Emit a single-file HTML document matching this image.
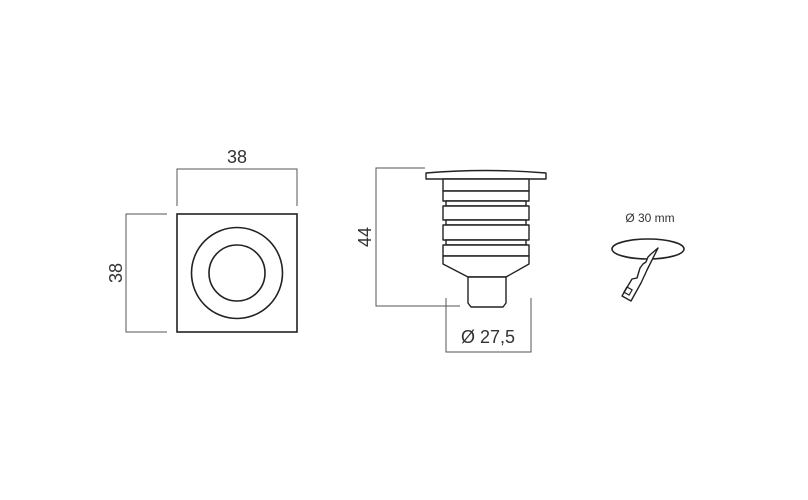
<!DOCTYPE html>
<html><head><meta charset="utf-8"><style>
body{margin:0;background:#fff}
svg{display:block}
text{font-family:"Liberation Sans",sans-serif;fill:#333}
</style></head><body>
<svg width="808" height="500" viewBox="0 0 808 500" xmlns="http://www.w3.org/2000/svg">
<g fill="none" stroke="#555" stroke-width="1">
<polyline points="177,206 177,169 297,169 297,206"/>
<polyline points="167,214 126,214 126,332 167,332"/>
<polyline points="425,168 376,168 376,306 460,306"/>
<polyline points="446,298 446,352 531,352 531,298"/>
</g>
<text x="237" y="163" font-size="18" text-anchor="middle">38</text>
<text transform="translate(122,273) rotate(-90)" font-size="18" text-anchor="middle">38</text>
<text transform="translate(371,237) rotate(-90)" font-size="18" text-anchor="middle">44</text>
<text x="488" y="343" font-size="18" text-anchor="middle">Ø 27,5</text>
<text x="650" y="222" font-size="12" text-anchor="middle">Ø 30 mm</text>
<g fill="none" stroke="#222" stroke-width="1.6">
<rect x="177" y="214" width="120" height="118"/>
<circle cx="237" cy="273" r="45.5"/>
<circle cx="237" cy="273" r="28"/>
</g>
<g fill="#fff" stroke="#222" stroke-width="1.4" stroke-linejoin="round">
<path d="M426,179 L426,173 Q486,168 546,173 L546,179 Z"/>
<rect x="443" y="179" width="86" height="12"/>
<rect x="443" y="191" width="86" height="10"/>
<rect x="446" y="201" width="80" height="5"/>
<rect x="443" y="206" width="86" height="14"/>
<rect x="446" y="220" width="80" height="5"/>
<rect x="443" y="225" width="86" height="15"/>
<rect x="446" y="240" width="80" height="5"/>
<rect x="443" y="245" width="86" height="11"/>
<path d="M443,256 L529,256 L529,264 L506,277 L468,277 L443,264 Z"/>
<path d="M468,277 L506,277 L506,303 L503,307 L471,307 L468,303 Z"/>
</g>
<ellipse cx="648" cy="249" rx="36" ry="10" fill="#fff" stroke="#222" stroke-width="1.6"/>
<path d="M658,248 L647,270 L641,283 L631,301 L622,296 L632,279 L637,278 L640,268 L643,264 L646,262 L648,257 L651,254 Z" fill="#fff" stroke="#222" stroke-width="1.4" stroke-linejoin="round"/>
<rect x="625" y="288" width="6" height="6" transform="rotate(30 628 291)" fill="none" stroke="#222" stroke-width="1.2"/>
</svg>
</body></html>
